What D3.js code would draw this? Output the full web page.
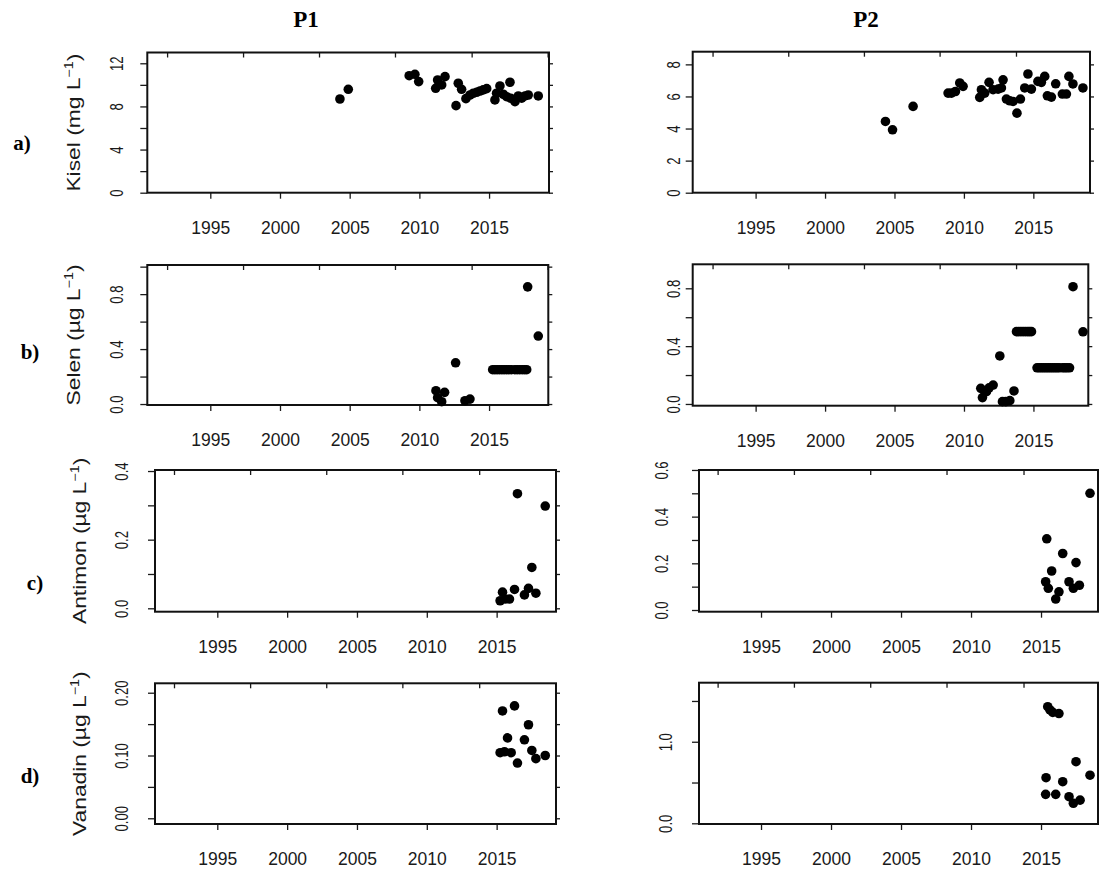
<!DOCTYPE html>
<html>
<head>
<meta charset="utf-8">
<script src="https://cdn.jsdelivr.net/npm/d3@7"></script>
<style>
body{margin:0;background:#fff}
text{font-family:"Liberation Sans",Arial,sans-serif;fill:#1a1a1a}
.tick line{stroke:#1a1a1a;stroke-width:1.3}
</style>
</head>
<body>
<div id="chart-area"></div>
<script>
const WIDTH = 1099
const HEIGHT = 874

// x axis (years)
const xTickYears = [1995,2000,2005,2010,2015]
const topTickYears = [1991.9,1997.35,2002.8,2008.25,2013.75,2019.2]

// y ticks / labels per panel
const kiselTicksP1 = [0,2,4,6,8,10,12],  kiselLabelsP1 = [0,4,8,12]
const kiselTicksP2 = [0,2,4,6,8],        kiselLabelsP2 = [0,2,4,6,8]
const selenTicksP1 = [0,0.2,0.4,0.6,0.8,1.0], selenLabels = [0,0.4,0.8]
const selenTicksP2 = [0,0.2,0.4,0.6,0.8]
const antimonTicksP1 = [0,0.1,0.2,0.3,0.4], antimonLabelsP1 = [0,0.2,0.4]
const antimonTicksP2 = [0,0.1,0.2,0.3,0.4,0.5,0.6], antimonLabelsP2 = [0,0.2,0.4,0.6]
const vanadinTicksP1 = [0,0.05,0.1,0.15,0.2], vanadinLabelsP1 = [0,0.1,0.2]
const vanadinTicksP2 = [0,0.5,1.0,1.5], vanadinLabelsP2 = [0,1.0]

// measurements [year, value]
const kiselP1 = [[2004.3,8.69],[2004.9,9.59],[2009.27,10.85],[2009.68,10.98],[2009.95,10.3],
	[2011.17,9.68],[2011.31,10.45],[2011.6,9.99],[2011.84,10.76],[2012.63,8.07],[2012.79,10.15],
	[2013.03,9.59],[2013.34,8.72],[2013.63,9.06],[2013.87,9.22],[2014.11,9.31],[2014.35,9.43],
	[2014.58,9.53],[2014.83,9.65],[2015.42,8.6],[2015.54,9.22],[2015.78,9.9],[2016.02,9.13],
	[2016.26,8.9],[2016.5,10.24],[2016.55,8.76],[2016.86,8.44],[2017.1,8.97],[2017.34,8.76],
	[2017.58,8.97],[2017.81,9.06],[2018.53,8.97]]

const kiselP2 = [[2004.35,4.44],[2004.86,3.92],[2006.34,5.38],[2008.86,6.21],[2009.1,6.21],
	[2009.39,6.31],[2009.7,6.84],[2009.94,6.63],[2011.14,5.94],[2011.26,6.42],[2011.5,6.21],
	[2011.81,6.88],[2012.1,6.42],[2012.46,6.46],[2012.7,6.53],[2012.82,7.04],[2013.06,5.84],
	[2013.3,5.73],[2013.54,5.69],[2013.82,4.96],[2014.07,5.84],[2014.38,6.53],[2014.61,7.4],
	[2014.86,6.46],[2015.33,6.94],[2015.58,6.88],[2015.82,7.25],[2016.01,6.04],[2016.3,5.96],
	[2016.61,6.79],[2017.09,6.15],[2017.38,6.15],[2017.56,7.25],[2017.85,6.78],[2018.57,6.53]]

const selenP1 = [[2011.19,0.097],[2011.31,0.046],[2011.6,0.017],[2011.81,0.085],[2012.6,0.3],
	[2013.27,0.024],[2013.63,0.036],
	[2015.26,0.25],[2015.42,0.25],[2015.58,0.25],[2015.75,0.25],[2015.92,0.25],[2016.08,0.25],
	[2016.25,0.25],[2016.42,0.25],[2016.6,0.25],[2016.85,0.25],[2017.02,0.25],[2017.2,0.25],
	[2017.38,0.25],[2017.55,0.25],[2017.7,0.25],
	[2017.77,0.853],[2018.53,0.495]]

const selenP2 = [[2011.21,0.108],[2011.33,0.044],[2011.62,0.085],[2011.81,0.112],[2012.1,0.131],
	[2012.58,0.332],[2012.77,0.016],[2013.01,0.016],[2013.3,0.023],[2013.6,0.09],
	[2013.78,0.5],[2013.94,0.5],[2014.1,0.5],[2014.26,0.5],[2014.42,0.5],[2014.58,0.5],
	[2014.72,0.5],[2014.86,0.5],
	[2015.26,0.25],[2015.42,0.25],[2015.58,0.25],[2015.74,0.25],[2015.9,0.25],[2016.06,0.25],
	[2016.22,0.25],[2016.38,0.25],[2016.54,0.25],[2016.7,0.25],[2016.86,0.25],[2017.1,0.25],
	[2017.26,0.25],[2017.42,0.25],[2017.6,0.25],
	[2017.85,0.811],[2018.57,0.499]]

const antimonP1 = [[2015.25,0.022],[2015.42,0.047],[2015.61,0.027],[2015.92,0.027],[2016.28,0.055],
	[2016.49,0.334],[2016.99,0.039],[2017.28,0.058],[2017.52,0.119],[2017.81,0.044],[2018.48,0.298]]

const antimonP2 = [[2015.41,0.305],[2015.33,0.121],[2015.52,0.093],[2015.76,0.167],[2016.05,0.047],
	[2016.28,0.078],[2016.55,0.242],[2017.0,0.121],[2017.31,0.093],[2017.5,0.203],[2017.74,0.106],
	[2018.5,0.5]]

const vanadinP1 = [[2015.25,0.1045],[2015.42,0.171],[2015.56,0.106],[2015.78,0.128],[2016.04,0.1045],
	[2016.28,0.179],[2016.49,0.088],[2016.99,0.125],[2017.28,0.149],[2017.52,0.108],[2017.81,0.095],
	[2018.48,0.1]]

const vanadinP2 = [[2015.48,1.43],[2015.64,1.39],[2015.84,1.36],[2016.28,1.346],[2015.33,0.355],
	[2015.36,0.559],[2016.05,0.355],[2016.55,0.51],[2017.0,0.326],[2017.31,0.245],[2017.5,0.755],
	[2017.79,0.284],[2018.5,0.59]]

const yTitles = ["Kisel (mg L","Selen (µg L","Antimon (µg L","Vanadin (µg L"]
const rowLetters = ["a)","b)","c)","d)"]
const columnTitles = ["P1","P2"]

const svg = d3.select("#chart-area").append("svg")
	.attr("width",WIDTH)
	.attr("height",HEIGHT)

// frame boxes [left, top, right, bottom], axis domains and label offsets
const panels = [
	{data:kiselP1, box:[147.3,52.5,549,192.7], xd:[1990.48,2019.3], yd:[0,13], ticks:kiselTicksP1, labels:kiselLabelsP1, fmt:d3.format("d"), off:24},
	{data:kiselP2, box:[692.7,51.7,1090,192.7], xd:[1990.47,2019.08], yd:[0,8.79], ticks:kiselTicksP2, labels:kiselLabelsP2, fmt:d3.format("d"), off:13},
	{data:selenP1, box:[147.3,265,548.3,405], xd:[1990.48,2019.25], yd:[-0.007,1.012], ticks:selenTicksP1, labels:selenLabels, fmt:d3.format(".1f"), off:24},
	{data:selenP2, box:[692.7,264.3,1088.3,405.7], xd:[1990.47,2018.95], yd:[-0.012,0.966], ticks:selenTicksP2, labels:selenLabels, fmt:d3.format(".1f"), off:13},
	{data:antimonP1, box:[155,470,556,611.7], xd:[1990.54,2019.25], yd:[-0.0099,0.403], ticks:antimonTicksP1, labels:antimonLabelsP1, fmt:d3.format(".1f"), off:27},
	{data:antimonP2, box:[699,470,1098,611.7], xd:[1990.57,2019.07], yd:[-0.0073,0.5998], ticks:antimonTicksP2, labels:antimonLabelsP2, fmt:d3.format(".1f"), off:31},
	{data:vanadinP1, box:[155,683.3,556,824], xd:[1990.54,2019.25], yd:[-0.0091,0.215], ticks:vanadinTicksP1, labels:vanadinLabelsP1, fmt:d3.format(".2f"), off:27},
	{data:vanadinP2, box:[699,682.7,1098,824], xd:[1990.57,2019.07], yd:[-0.0086,1.724], ticks:vanadinTicksP2, labels:vanadinLabelsP2, fmt:d3.format(".1f"), off:27}
]

function drawPanel(p){
	const [x0,y0,x1,y1] = p.box
	const x = d3.scaleLinear().domain(p.xd).range([x0,x1])
	const y = d3.scaleLinear().domain(p.yd).range([y1,y0])
	const g = svg.append("g")

	// bottom axis with year labels
	const bottom = g.append("g")
		.attr("transform",`translate(0,${y1})`)
		.call(d3.axisBottom(x).tickValues(xTickYears).tickSize(6).tickPadding(23).tickFormat(d3.format("d")))
	bottom.selectAll("text").style("font-size","17.5px")

	// top ticks, inward, no labels
	g.append("g")
		.attr("transform",`translate(0,${y0})`)
		.call(d3.axisBottom(x).tickValues(topTickYears.filter(d=>d<=p.xd[1])).tickSize(5).tickFormat(""))

	// left axis, rotated labels
	const left = g.append("g")
		.attr("transform",`translate(${x0},0)`)
		.call(d3.axisLeft(y).tickValues(p.ticks).tickSize(7)
			.tickFormat(d=>p.labels.includes(d) ? p.fmt(d) : ""))
	left.selectAll("text")
		.attr("x",null).attr("dy",null)
		.attr("text-anchor","middle")
		.style("font-size","17.5px")
		.attr("transform",`translate(${-p.off},0) rotate(-90) scale(0.75,1)`)

	// right ticks
	g.append("g")
		.attr("transform",`translate(${x1},0)`)
		.call(d3.axisRight(y).tickValues(p.ticks).tickSize(4).tickFormat(""))

	g.selectAll(".domain").remove()

	g.append("rect")
		.attr("x",x0).attr("y",y0)
		.attr("width",x1-x0).attr("height",y1-y0)
		.attr("fill","none")
		.attr("stroke","#111")
		.attr("stroke-width",2)

	g.selectAll("circle")
		.data(p.data)
		.enter().append("circle")
		.attr("cx",d=>x(d[0]))
		.attr("cy",d=>y(d[1]))
		.attr("r",4.8)
		.attr("fill","#000")
}

panels.forEach(drawPanel)

// column titles
const colX = [306,866]
columnTitles.forEach((t,i)=>{
	svg.append("text")
		.attr("x",colX[i]).attr("y",27)
		.attr("text-anchor","middle")
		.style("font-family","'Liberation Serif','Times New Roman',serif")
		.style("font-weight","bold")
		.style("font-size","23px")
		.style("fill","#000")
		.text(t)
})

// row letters and y titles
const letterPos = [[22,150],[30,359],[35,590],[30,783]]
const titleX = [80,80,86,86]
yTitles.forEach((t,i)=>{
	svg.append("text")
		.attr("x",letterPos[i][0]).attr("y",letterPos[i][1])
		.attr("text-anchor","middle")
		.style("font-family","'Liberation Serif','Times New Roman',serif")
		.style("font-weight","bold")
		.style("font-size","21px")
		.style("fill","#000")
		.text(rowLetters[i])

	const box = panels[i*2].box
	const cy = (box[1]+box[3])/2
	const title = svg.append("text")
		.attr("text-anchor","middle")
		.style("font-size","19px")
		.attr("transform",`translate(${titleX[i]},${cy}) rotate(-90) scale(1.2,1)`)
	title.append("tspan").text(t)
	title.append("tspan").attr("dy",-7).style("font-size","12px").text("−1")
	title.append("tspan").attr("dy",7).text(")")
})
</script>
</body>
</html>
